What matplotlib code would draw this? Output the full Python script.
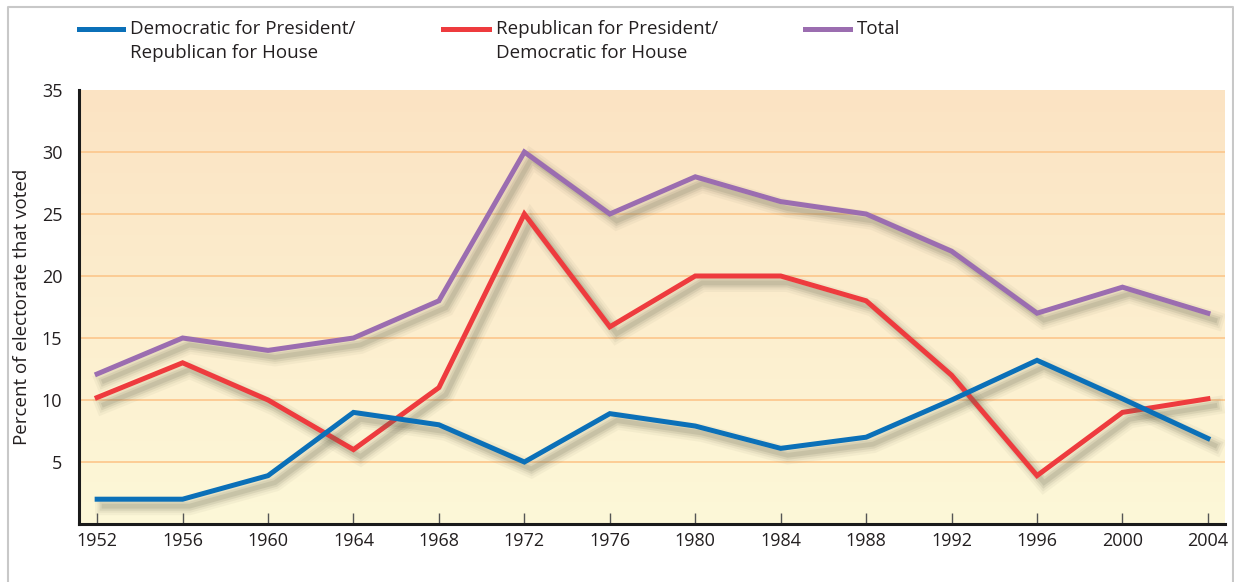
import numpy as np
import matplotlib.pyplot as plt
import matplotlib.patheffects as pe
from matplotlib.lines import Line2D

plt.rcParams['font.family'] = ['Open Sans', 'DejaVu Sans']

# data
years = [1952, 1956, 1960, 1964, 1968, 1972, 1976, 1980, 1984, 1988, 1992, 1996, 2000, 2004]
dem_pres_rep_house = [2.0, 2.0, 3.9, 9.0, 8.0, 5.0, 8.9, 7.9, 6.1, 7.0, 10.0, 13.2, 10.1, 6.9]
rep_pres_dem_house = [10.2, 13.0, 10.0, 6.0, 11.0, 25.0, 15.9, 20.0, 20.0, 18.0, 12.0, 3.9, 9.0, 10.1]
total = [12.1, 15.0, 14.0, 15.0, 18.0, 30.0, 25.0, 28.0, 26.0, 25.0, 22.0, 17.0, 19.1, 17.0]

series_labels = [["Democratic for President/", "Republican for House"],
                 ["Republican for President/", "Democratic for House"],
                 ["Total"]]
colors = ['#0b70b8', '#ee3b3e', '#9b6db0']
text_color = '#231f20'

fig = plt.figure(figsize=(12.34, 5.82), dpi=100)
ax = fig.add_axes([79 / 1234, 58 / 582, 1146 / 1234, 434 / 582])

# gradient background
grad = np.linspace(0, 1, 256).reshape(-1, 1)
top = np.array([251, 227, 195]) / 255
bot = np.array([253, 248, 216]) / 255
img = top * (1 - grad)[..., None] + bot * grad[..., None]
ax.imshow(img, extent=[1951.15, 2004.8, 0, 35], aspect='auto', origin='upper', zorder=0)

ax.set_xlim(1951.15, 2004.8)
ax.set_ylim(0, 35)

for yv in range(5, 35, 5):
    ax.axhline(yv, color='#fcc990', lw=1.3, zorder=1)

# soft drop shadow, a few stacked strokes
shadow = [pe.SimpleLineShadow(offset=(5, -5), shadow_color='#6b6b55', alpha=0.06, linewidth=13),
          pe.SimpleLineShadow(offset=(5, -5), shadow_color='#6b6b55', alpha=0.08, linewidth=9.5),
          pe.SimpleLineShadow(offset=(5, -5), shadow_color='#6b6b55', alpha=0.12, linewidth=6.5),
          pe.SimpleLineShadow(offset=(5, -5), shadow_color='#6b6b55', alpha=0.15, linewidth=3.5),
          pe.Normal()]

for vals, c in zip([total, rep_pres_dem_house, dem_pres_rep_house], colors[::-1]):
    ax.plot(years, vals, color=c, lw=3.6, solid_joinstyle='miter', zorder=3, path_effects=shadow)

ax.set_xticks(years)
ax.set_xticklabels([str(y) for y in years], fontsize=13, color=text_color)
ax.set_yticks(range(5, 40, 5))
ax.set_yticklabels([str(v) for v in range(5, 40, 5)], fontsize=13, color=text_color)
ax.tick_params(axis='x', direction='in', length=8, width=1, color='#555555', pad=6)
ax.tick_params(axis='y', length=0, pad=12)
for s in ['top', 'right']:
    ax.spines[s].set_visible(False)
for s in ['left', 'bottom']:
    ax.spines[s].set_linewidth(2.2)
    ax.spines[s].set_color('#1a1a1a')
ax.set_ylabel("Percent of electorate that voted", fontsize=13.5, color=text_color, labelpad=8)

# legend drawn by hand across the top
leg_x = [(79, 123, 130), (443, 489, 496), (805, 850, 857)]
for (x0, x1, xt), c, lines in zip(leg_x, colors, series_labels):
    fig.add_artist(Line2D([x0 / 1234, x1 / 1234], [1 - 29 / 582] * 2, color=c, lw=3.6))
    for i, txt in enumerate(lines):
        fig.text(xt / 1234, 1 - (29 + 24 * i) / 582, txt, fontsize=13.5, color=text_color,
                 va='center', ha='left')

# light frame
fig.add_artist(Line2D([7.5 / 1234, 7.5 / 1234, 1232.5 / 1234, 1232.5 / 1234],
                      [0, 1 - 6.5 / 582, 1 - 6.5 / 582, 0], color='#c8c8c8', lw=1.5))

fig.savefig('out.png', dpi=100)
